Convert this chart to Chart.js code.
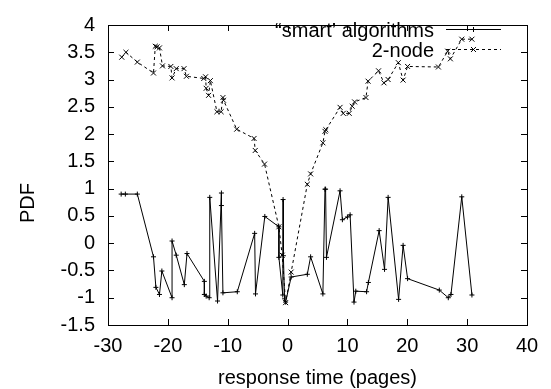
<!DOCTYPE html>
<html>
<head>
<meta charset="utf-8">
<script src="https://cdn.jsdelivr.net/npm/chart.js@4/dist/chart.umd.min.js"></script>
<style>
  html, body { margin: 0; padding: 0; background: #fff; }
  #wrap { width: 551px; height: 389px; }
</style>
</head>
<body>
<div id="wrap"><canvas id="pdf" width="551" height="389"></canvas></div>
<script>
// values
const smartX = [-27.8, -27.1, -25.1, -22.4, -22.0, -21.4, -21.0, -19.3, -19.3, -18.6, -17.25, -16.8,
  -13.9, -13.9, -13.6, -13.1, -13.0, -11.7, -11.05, -11.05, -10.8, -8.4, -5.5, -5.36, -3.8,
  -1.45, -1.45, -0.8, -0.75, -0.7, -0.5, -0.33, 0.6, 3.3, 3.85, 5.9, 6.25, 6.35, 6.5, 8.77,
  9.16, 10.0, 10.45, 11.1, 11.4, 13.2, 13.5, 15.3, 16.2, 16.8, 18.55, 19.3, 20.05, 25.35,
  26.85, 27.3, 29.1, 30.8];
const smartY = [0.90, 0.90, 0.90, -0.25, -0.81, -0.94, -0.51, -1.00, 0.04, -0.22, -0.76, -0.19,
  -0.70, -0.94, -0.97, -1.00, 0.84, -1.06, 0.92, 0.69, -0.91, -0.89, 0.18, -0.93, 0.49,
  0.30, -0.26, -0.95, 0.80, -0.23, -1.02, -1.08, -0.62, -0.57, -0.25, -0.93, 0.99, 0.99, -0.26, 0.96,
  0.43, 0.48, 0.52, -1.08, -0.88, -0.89, -0.72, 0.23, -0.48, 0.84, -1.03, -0.04, -0.65, -0.86,
  -1.00, -0.94, 0.85, -0.95];

const nodeX = [-27.7, -27.0, -25.1, -22.4, -22.1, -21.8, -21.4, -20.9, -19.5, -19.3, -18.6, -17.3,
  -16.9, -14.0, -13.7, -13.6, -13.2, -12.9, -11.8, -11.1, -10.8, -10.7, -8.5, -5.6, -5.4,
  -3.85, -1.45, -0.9, -0.33, 0.6, 3.3, 3.85, 5.9, 6.25, 6.4, 8.77, 9.3, 10.3, 10.8, 11.2,
  13.1, 13.45, 15.2, 16.1, 16.8, 18.5, 19.3, 20.05, 25.2, 26.75, 27.2, 29.1, 30.8];
const nodeY = [3.41, 3.50, 3.32, 3.12, 3.61, 3.60, 3.58, 3.25, 3.24, 3.03, 3.20, 3.20,
  3.06, 3.02, 3.05, 2.84, 2.71, 2.98, 2.41, 2.41, 2.67, 2.62, 2.09, 1.92, 1.70,
  1.45, 0.30, -0.22, -1.09, -0.53, 1.08, 1.27, 1.84, 2.05, 2.08, 2.49, 2.38, 2.38, 2.51, 2.59,
  2.67, 2.97, 3.16, 2.94, 3.00, 3.31, 2.99, 3.24, 3.23, 3.52, 3.38, 3.74, 3.74];

const xTicks = [-30, -20, -10, 0, 10, 20, 30, 40];
const yTicks = [-1.5, -1, -0.5, 0, 0.5, 1, 1.5, 2, 2.5, 3, 3.5, 4];
const names = ['\u201csmart\u2019 algorithms', '2-node'];

const FONT = "'Liberation Sans', Arial, Helvetica, sans-serif";
const pts = (xs, ys) => xs.map((v, i) => ({x: v, y: ys[i]}));

// box, inward ticks, ylabel and key, gnuplot style
const frame = {
  id: 'frame',
  afterDraw(chart) {
    const {ctx, chartArea: a, scales: {x, y}} = chart;
    ctx.save();
    ctx.strokeStyle = '#000';
    ctx.lineWidth = 1;
    ctx.setLineDash([]);
    ctx.strokeRect(a.left + 0.5, a.top + 0.5, a.right - a.left, a.bottom - a.top);
    ctx.beginPath();
    xTicks.forEach(v => {
      const p = Math.round(x.getPixelForValue(v)) + 0.5;
      ctx.moveTo(p, a.bottom); ctx.lineTo(p, a.bottom - 6);
      ctx.moveTo(p, a.top); ctx.lineTo(p, a.top + 6);
    });
    yTicks.forEach(v => {
      const p = Math.round(y.getPixelForValue(v)) + 0.5;
      ctx.moveTo(a.left, p); ctx.lineTo(a.left + 6, p);
      ctx.moveTo(a.right, p); ctx.lineTo(a.right - 6, p);
    });
    ctx.stroke();

    ctx.fillStyle = '#000';
    ctx.font = '20px ' + FONT;
    // y title
    ctx.save();
    ctx.translate(33.5, 203);
    ctx.rotate(-Math.PI / 2);
    ctx.textAlign = 'center';
    ctx.textBaseline = 'alphabetic';
    ctx.fillText('PDF', 0, 0);
    ctx.restore();

    // key
    chart.data.datasets.forEach((ds, i) => {
      const ly = 29 + 20 * i;
      ctx.textAlign = 'right';
      ctx.textBaseline = 'alphabetic';
      ctx.fillText(names[i], 434, ly + 7.5);
      ctx.beginPath();
      ctx.setLineDash(ds.borderDash || []);
      ctx.moveTo(446, ly + 0.5); ctx.lineTo(501, ly + 0.5);
      ctx.stroke();
      ctx.setLineDash([]);
      Chart.helpers.drawPoint(ctx, {pointStyle: ds.pointStyle, radius: ds.pointRadius, borderWidth: 1, rotation: 0}, 473.5, ly + 0.5);
    });
    ctx.restore();
  }
};

new Chart(document.getElementById('pdf'), {
  type: 'line',
  data: {
    datasets: [{
      label: names[0],
      data: pts(smartX, smartY),
      borderColor: '#000',
      backgroundColor: '#000',
      borderWidth: 1,
      pointStyle: 'cross',
      pointRadius: 2.5,
      pointBorderWidth: 1,
      tension: 0,
      fill: false
    }, {
      label: names[1],
      data: pts(nodeX, nodeY),
      borderColor: '#000',
      backgroundColor: '#000',
      borderWidth: 1,
      borderDash: [3, 3],
      pointStyle: 'crossRot',
      pointRadius: 3.5,
      pointBorderWidth: 1,
      tension: 0,
      fill: false
    }]
  },
  options: {
    responsive: false,
    animation: false,
    devicePixelRatio: 1,
    layout: {padding: {top: 14, right: 24, left: 0, bottom: 0}},
    plugins: {legend: {display: false}, tooltip: {enabled: false}},
    scales: {
      x: {
        type: 'linear',
        min: -30, max: 40,
        afterBuildTicks: s => { s.ticks = xTicks.map(v => ({value: v})); },
        afterFit: s => { s.height = 64; },
        grid: {display: false, drawTicks: false},
        border: {display: false},
        ticks: {color: '#000', font: {family: FONT, size: 20}, padding: 9, maxRotation: 0,
                callback: v => String(v)},
        title: {display: true, text: 'response time (pages)', color: '#000',
                font: {family: FONT, size: 20}, padding: {top: 0, bottom: -1}}
      },
      y: {
        type: 'linear',
        min: -1.5, max: 4,
        afterBuildTicks: s => { s.ticks = yTicks.map(v => ({value: v})); },
        afterFit: s => { s.width = 108; },
        grid: {display: false, drawTicks: false},
        border: {display: false},
        ticks: {color: '#000', font: {family: FONT, size: 20}, padding: 13,
                callback: v => String(v)}
      }
    }
  },
  plugins: [frame]
});
</script>
</body>
</html>
